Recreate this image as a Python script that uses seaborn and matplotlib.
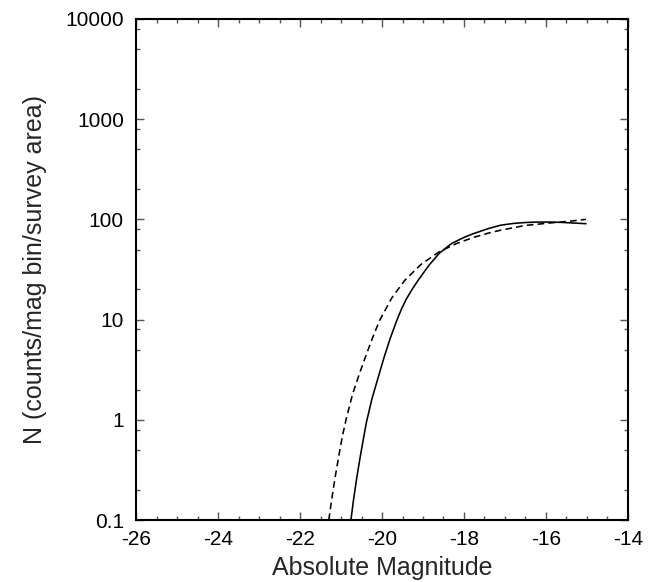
import matplotlib
matplotlib.use("Agg")
import matplotlib.pyplot as plt
import matplotlib.ticker as mticker
import seaborn as sns
import pandas as pd

# --- data ---
solid_mag = [-20.76, -20.70, -20.62, -20.54, -20.46, -20.38, -20.25, -20.10, -19.95,
             -19.80, -19.64, -19.52, -19.40, -19.25, -19.10, -18.85, -18.60, -18.30,
             -18.00, -17.77, -17.40, -17.10, -16.80, -16.50, -16.20, -15.90, -15.60,
             -15.30, -15.02]
solid_n = [0.10, 0.155, 0.26, 0.41, 0.63, 0.95, 1.6, 2.6, 4.2,
           6.5, 9.8, 12.9, 16.2, 20.5, 25.3, 35.0, 46.0, 57.5,
           66.0, 72.0, 81.0, 87.5, 91.0, 93.0, 94.0, 94.0, 93.2,
           91.8, 90.5]

dashed_mag = [-21.30, -21.22, -21.14, -21.05, -20.97, -20.88, -20.72, -20.55, -20.40,
              -20.23, -20.06, -19.76, -19.45, -19.05, -18.62, -18.20, -17.77, -17.40,
              -17.10, -16.50, -15.90, -15.40, -15.02]
dashed_n = [0.10, 0.17, 0.275, 0.45, 0.68, 1.0, 1.8, 2.9, 4.3,
            6.6, 9.8, 16.5, 24.5, 35.5, 47.0, 57.0, 66.0, 73.0,
            78.0, 87.0, 92.0, 96.0, 100.0]

x_ticks = [-26, -24, -22, -20, -18, -16, -14]
x_tick_labels = ["-26", "-24", "-22", "-20", "-18", "-16", "-14"]
y_ticks = [0.1, 1, 10, 100, 1000, 10000]
y_tick_labels = ["0.1", "1", "10", "100", "1000", "10000"]
y_minor_mult = [2, 5, 8]

x_label = "Absolute Magnitude"
y_label = "N (counts/mag bin/survey area)"

# --- styling ---
sns.set_style("ticks")
plt.rcParams['font.family'] = ['Liberation Sans', 'DejaVu Sans']

df_s = pd.DataFrame({"mag": solid_mag, "n": solid_n})
df_d = pd.DataFrame({"mag": dashed_mag, "n": dashed_n})

fig = plt.figure(figsize=(6.65, 5.82), dpi=100)
ax = fig.add_axes([0.205, 0.1065, 0.739, 0.861])

sns.lineplot(data=df_s, x="mag", y="n", ax=ax, color="black", lw=1.15, sort=False)
sns.lineplot(data=df_d, x="mag", y="n", ax=ax, color="black", lw=1.15, sort=False,
             linestyle=(0, (4.2, 2.6)))

ax.set_yscale("log")
ax.set_xlim(-26, -14)
ax.set_ylim(0.1, 10000)

ax.xaxis.set_major_locator(mticker.FixedLocator(x_ticks))
ax.xaxis.set_major_formatter(mticker.FixedFormatter(x_tick_labels))
ax.xaxis.set_minor_locator(mticker.MultipleLocator(0.5))

ax.yaxis.set_major_locator(mticker.FixedLocator(y_ticks))
ax.yaxis.set_major_formatter(mticker.FixedFormatter(y_tick_labels))
minor_y = [m * d for d in [0.1, 1, 10, 100, 1000] for m in y_minor_mult]
ax.yaxis.set_minor_locator(mticker.FixedLocator(minor_y))
ax.yaxis.set_minor_formatter(mticker.NullFormatter())

ax.tick_params(which="both", direction="in", top=True, right=True, labelsize=15,
               colors="black")
ax.tick_params(axis="x", which="major", pad=7)
ax.tick_params(axis="y", which="major", pad=9)
ax.tick_params(which="major", length=6, width=1.0, color="#555555")
ax.tick_params(which="minor", length=3, width=1.0, color="#555555")
ax.tick_params(axis="both", labelcolor="black")

for s in ax.spines.values():
    s.set_linewidth(1.5)
    s.set_color("black")

ax.set_xlabel(x_label, fontsize=18, labelpad=5)
ax.set_ylabel(y_label, fontsize=18, labelpad=13)

fig.savefig("out.png", dpi=100)
